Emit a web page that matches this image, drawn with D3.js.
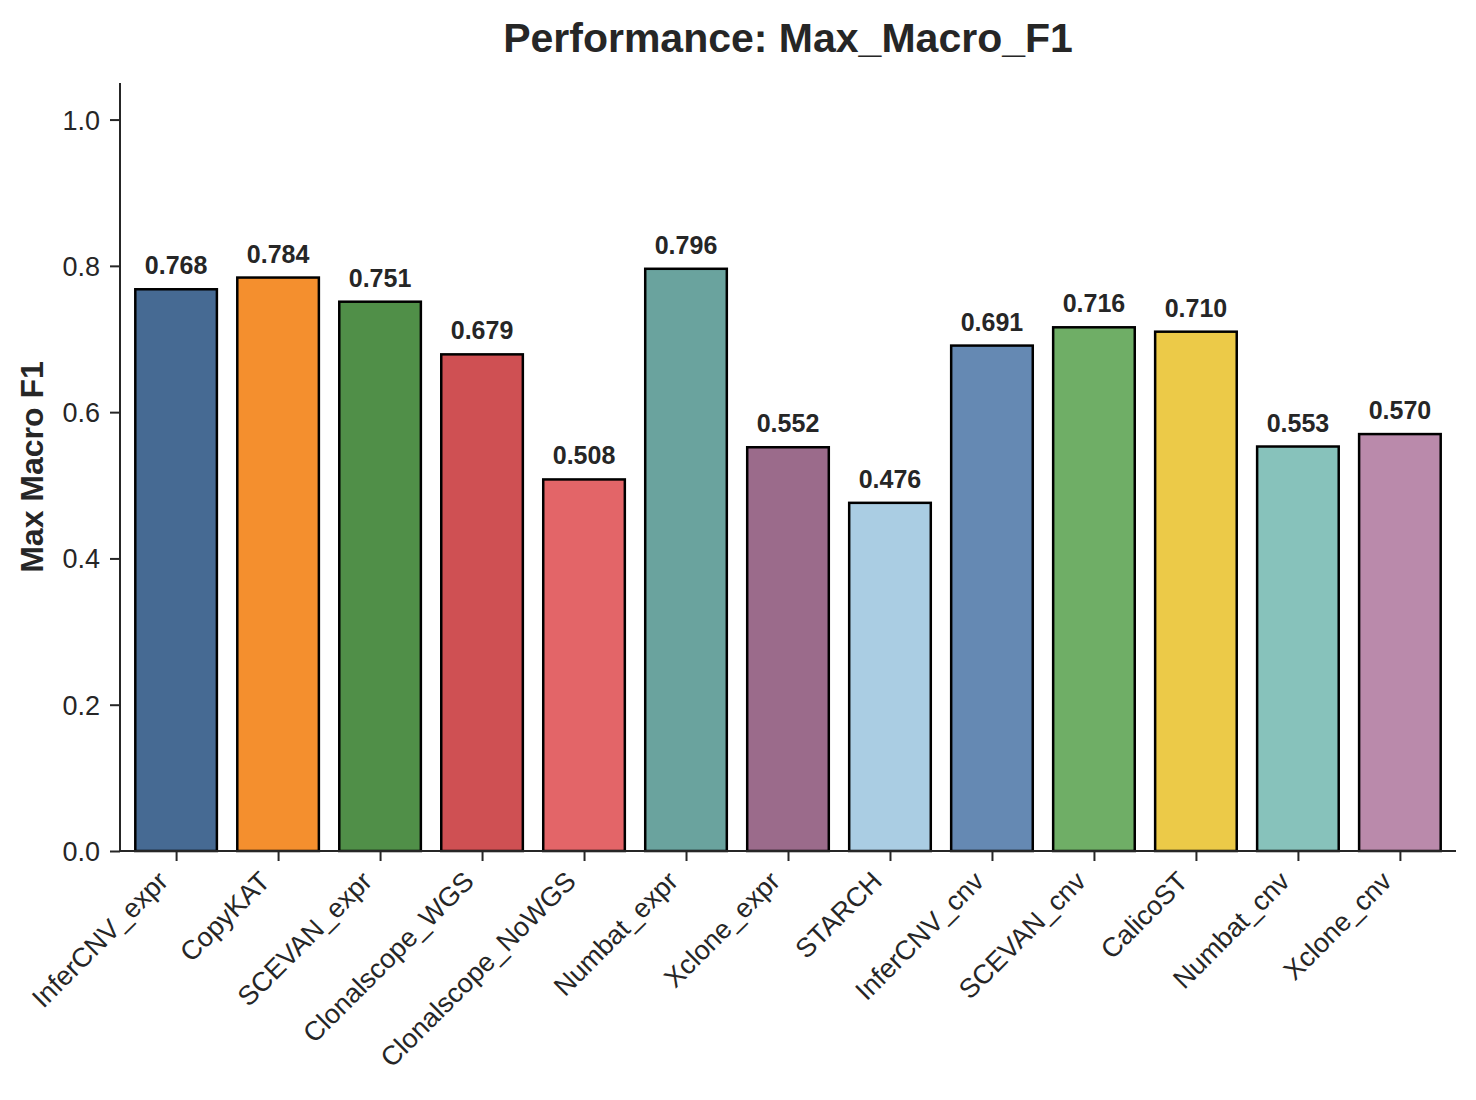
<!DOCTYPE html>
<html>
<head>
<meta charset="utf-8">
<script src="https://cdn.jsdelivr.net/npm/d3@7"></script>
<style>
  body { margin: 0; background: #fff; }
  svg text { font-family: "Liberation Sans", Arial, sans-serif; fill: #262626; }
</style>
</head>
<body>
<div class="container"></div>
<script>
const methods = ['InferCNV_expr', 'CopyKAT', 'SCEVAN_expr', 'Clonalscope_WGS', 'Clonalscope_NoWGS',
  'Numbat_expr', 'Xclone_expr', 'STARCH', 'InferCNV_cnv', 'SCEVAN_cnv', 'CalicoST', 'Numbat_cnv', 'Xclone_cnv'];
const scores = [0.768, 0.784, 0.751, 0.679, 0.508, 0.796, 0.552, 0.476, 0.691, 0.716, 0.710, 0.553, 0.570];
const barColors = ['#466a93', '#f48f2e', '#508f48', '#cf5053', '#e36568', '#6aa39e', '#9b6b8b',
  '#aacde3', '#6589b3', '#6fae66', '#ecca48', '#87c2bb', '#ba8aab'];
const yTicks = [0, 0.2, 0.4, 0.6, 0.8, 1.0];

(function () {
  const width = 1476, height = 1100;
  const left = 120, right = 1456, top = 83, bottom = 851;

  const svg = d3.select('.container').append('svg')
    .attr('width', width)
    .attr('height', height);

  // bars sit at integer positions, matplotlib-style margins
  const x = d3.scaleLinear().domain([-0.55, methods.length - 0.45]).range([left, right]);
  const y = d3.scaleLinear().domain([0, 1.05]).range([bottom, top]);
  const barW = x(0.8) - x(0);

  svg.selectAll('rect.bar')
    .data(scores)
    .enter()
    .append('rect')
    .attr('class', 'bar')
    .attr('x', (d, i) => x(i) - barW / 2)
    .attr('y', d => y(d))
    .attr('width', barW)
    .attr('height', d => y(0) - y(d))
    .attr('fill', (d, i) => barColors[i])
    .attr('stroke', '#000')
    .attr('stroke-width', 2.5);

  svg.selectAll('text.val')
    .data(scores)
    .enter()
    .append('text')
    .attr('class', 'val')
    .attr('x', (d, i) => x(i))
    .attr('y', d => y(d) - 15)
    .attr('text-anchor', 'middle')
    .style('font-size', '25px')
    .style('font-weight', 'bold')
    .text(d => d.toFixed(3));

  // y axis
  const yAxis = svg.append('g')
    .attr('transform', `translate(${left},0)`)
    .call(d3.axisLeft(y).tickValues(yTicks).tickFormat(d3.format('.1f')).tickSize(10).tickPadding(10));
  yAxis.select('.domain').attr('stroke', '#262626').attr('stroke-width', 2).attr('d', `M0,${top}V${bottom}`);
  yAxis.selectAll('.tick line').attr('stroke', '#262626').attr('stroke-width', 2);
  yAxis.selectAll('.tick text').style('font-size', '27px').attr('fill', '#262626').attr('dy', '0.35em');

  // x axis
  const xAxis = svg.append('g')
    .attr('transform', `translate(0,${bottom})`)
    .call(d3.axisBottom(x).tickValues(d3.range(methods.length)).tickFormat(i => methods[i]).tickSize(10));
  xAxis.select('.domain').attr('stroke', '#262626').attr('stroke-width', 2).attr('d', `M${left},0H${right}`);
  xAxis.selectAll('.tick line').attr('stroke', '#262626').attr('stroke-width', 2);
  xAxis.selectAll('.tick text')
    .style('font-size', '27px')
    .attr('fill', '#262626')
    .attr('text-anchor', 'end')
    .attr('y', 0)
    .attr('dy', 0)
    .attr('transform', 'translate(-7,32) rotate(-45)');

  svg.append('text')
    .attr('transform', `translate(43,${(top + bottom) / 2}) rotate(-90)`)
    .attr('text-anchor', 'middle')
    .style('font-size', '32px')
    .style('font-weight', 'bold')
    .text('Max Macro F1');

  svg.append('text')
    .attr('x', (left + right) / 2)
    .attr('y', 52)
    .attr('text-anchor', 'middle')
    .style('font-size', '41px')
    .style('font-weight', 'bold')
    .text('Performance: Max_Macro_F1');
})();
</script>
</body>
</html>
